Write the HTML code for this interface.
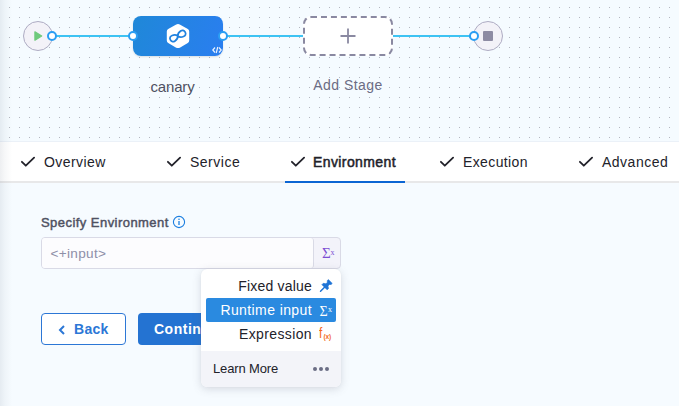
<!DOCTYPE html>
<html><head><meta charset="utf-8">
<style>
*{box-sizing:border-box;margin:0;padding:0}
html,body{width:679px;height:406px;overflow:hidden}
body{position:relative;background:#f6fbff;font-family:"Liberation Sans",sans-serif;}
.abs{position:absolute}
#canvas{left:0;top:0;width:679px;height:142px;border-bottom:1px solid #ebf1f8;background-color:#f5fbff;
}
#leftshade{left:0;top:0;width:12px;height:406px;background:linear-gradient(to right,rgba(20,40,70,0.075),rgba(20,40,70,0.035) 40%,rgba(20,40,70,0));z-index:50}
.line{height:2px;background:#3ec3f3;top:35px}
.port{width:10px;height:10px;border-radius:50%;background:#fff;border:2px solid #2b9ef3;top:31px}
.circ{width:30px;height:30px;border-radius:50%;background:#f3f2f8;border:1.2px solid #aeacc3;top:21px}
#stage{left:133px;top:16px;width:90px;height:40px;border-radius:8px;background:linear-gradient(110deg,#1f88d8,#2a7ef0);box-shadow:0 1px 2px rgba(0,0,0,0.12)}
#add{left:303px;top:16px;width:90px;height:40px}
.lbl{font-size:14px;color:#4f5162;text-align:center;white-space:nowrap}
#tabs{left:0;top:142px;width:679px;height:41px;background:#fff;border-bottom:2px solid #e8e8e9}
.tab{top:154px;font-size:14px;color:#22222a;white-space:nowrap;letter-spacing:0.25px}
.chk{top:156px}
</style></head><body>
<div id="canvas" class="abs"><svg width="679" height="141" style="position:absolute;left:0;top:0"><defs><pattern id="dots" x="9" y="7" width="10" height="10" patternUnits="userSpaceOnUse"><rect x="0" y="0" width="1" height="1" fill="#b5b7c0"/></pattern></defs><rect width="679" height="141" fill="url(#dots)"/></svg></div>

<!-- pipeline -->
<div class="abs line" style="left:52px;width:81px"></div>
<div class="abs line" style="left:223px;width:80px"></div>
<div class="abs line" style="left:393px;width:81px"></div>

<div class="abs circ" style="left:23px"></div>
<svg class="abs" style="left:33px;top:30px" width="11" height="12" viewBox="0 0 11 12"><path d="M1.9 1.8 L8.7 6 L1.9 10.2 Z" fill="#6fca7c" stroke="#6fca7c" stroke-width="1.2" stroke-linejoin="round"/></svg>
<div class="abs port" style="left:47px"></div>

<div id="stage" class="abs"></div>
<svg class="abs" style="left:166px;top:23px" width="24" height="26" viewBox="0 0 24 26">
  <path d="M12 1 Q13 1 14.2 1.7 L21.8 6 Q23.2 6.9 23.2 8.6 L23.2 17.6 Q23.2 19.3 21.8 20.1 L14.2 24.5 Q12 25.6 9.8 24.5 L2.2 20.1 Q0.8 19.3 0.8 17.6 L0.8 8.6 Q0.8 6.9 2.2 6 L9.8 1.7 Q11 1 12 1Z" fill="#fff"/>
  <g transform="translate(11.8 13) rotate(-28)"><path d="M0,0 C1.6,-3.4 8.4,-4.8 8.4,0 C8.4,4.8 1.6,3.4 0,0 C-1.6,-3.4 -8.4,-4.8 -8.4,0 C-8.4,4.8 -1.6,3.4 0,0Z" fill="none" stroke="#2082df" stroke-width="1.75"/></g>
</svg>
<svg class="abs" style="left:212px;top:46px" width="10" height="8" viewBox="0 0 10 8"><path d="M3 1.5 L0.8 4 L3 6.5 M7 1.5 L9.2 4 L7 6.5 M5.8 1 L4.2 7" fill="none" stroke="#e8f1ff" stroke-width="1.2"/></svg>
<div class="abs port" style="left:128px"></div>
<div class="abs port" style="left:218px"></div>

<div class="abs" style="left:303px;top:16px;width:90px;height:40px;border:2px dashed #8a89a1;border-radius:8px;background:#fff"></div>
<svg class="abs" style="left:303px;top:16px" width="90" height="40" viewBox="0 0 90 40"><path d="M37.5 20 H52.5 M45 12.5 V27.5" stroke="#8a89a1" stroke-width="1.8"/></svg>

<div class="abs circ" style="left:473px"></div>
<div class="abs" style="left:483px;top:31px;width:10px;height:10px;background:#8d8ba3;border-radius:1px"></div>
<div class="abs port" style="left:469px"></div>

<div class="abs lbl" style="left:122.5px;width:100px;top:78px;font-size:15px;letter-spacing:-0.15px">canary</div>
<div class="abs lbl" style="left:298px;width:100px;top:77px;color:#6b6c84;letter-spacing:0.45px">Add Stage</div>

<!-- tabs -->
<div id="tabs" class="abs"></div>
<div class="abs" style="left:285px;top:181px;width:120px;height:2px;background:#0b65d3"></div>

<svg class="abs chk" style="left:20px" width="16" height="12" viewBox="0 0 16 12"><path d="M1.9 5.8 L5.8 9.7 L14.1 1.7" fill="none" stroke="#22222a" stroke-width="1.8" stroke-linecap="round" stroke-linejoin="round"/></svg>
<div class="abs tab" style="left:44px;letter-spacing:0.42px">Overview</div>
<svg class="abs chk" style="left:166px" width="16" height="12" viewBox="0 0 16 12"><path d="M1.9 5.8 L5.8 9.7 L14.1 1.7" fill="none" stroke="#22222a" stroke-width="1.8" stroke-linecap="round" stroke-linejoin="round"/></svg>
<div class="abs tab" style="left:190px;letter-spacing:0.5px">Service</div>
<svg class="abs chk" style="left:289.5px" width="16" height="12" viewBox="0 0 16 12"><path d="M1.9 5.8 L5.8 9.7 L14.1 1.7" fill="none" stroke="#22222a" stroke-width="1.8" stroke-linecap="round" stroke-linejoin="round"/></svg>
<div class="abs tab" style="left:313px;letter-spacing:0.4px;-webkit-text-stroke:0.5px #22222a">Environment</div>
<svg class="abs chk" style="left:439px" width="16" height="12" viewBox="0 0 16 12"><path d="M1.9 5.8 L5.8 9.7 L14.1 1.7" fill="none" stroke="#22222a" stroke-width="1.8" stroke-linecap="round" stroke-linejoin="round"/></svg>
<div class="abs tab" style="left:463px;letter-spacing:0.38px">Execution</div>
<svg class="abs chk" style="left:578px" width="16" height="12" viewBox="0 0 16 12"><path d="M1.9 5.8 L5.8 9.7 L14.1 1.7" fill="none" stroke="#22222a" stroke-width="1.8" stroke-linecap="round" stroke-linejoin="round"/></svg>
<div class="abs tab" style="left:602px;letter-spacing:0.5px">Advanced</div>


<!-- form -->
<div class="abs" style="left:41px;top:215px;font-size:13px;color:#4f5162;white-space:nowrap;letter-spacing:0.45px;-webkit-text-stroke:0.45px #4f5162">Specify Environment</div>
<svg class="abs" style="left:172px;top:215px" width="14" height="14" viewBox="0 0 14 14"><circle cx="7" cy="7" r="5.6" fill="none" stroke="#1b7ee0" stroke-width="1.1"/><path d="M7 6 V10" stroke="#1b7ee0" stroke-width="1.3"/><circle cx="7" cy="4.3" r="0.8" fill="#1b7ee0"/></svg>
<div class="abs" style="left:41px;top:237px;width:300px;height:32px;border:1px solid #d9dae6;border-radius:4px;background:#f3f3fa"></div>
<div class="abs" style="left:42px;top:238px;width:272px;height:30px;border-right:1px solid #d9dae6;border-radius:3px;background:#fcfcfe"></div>
<div class="abs" style="left:50.5px;top:246px;font-size:13.6px;color:#8e8fa8;white-space:nowrap;letter-spacing:0.3px">&lt;+input&gt;</div>
<div class="abs" style="left:322px;top:245px;font-family:'Liberation Serif',serif;font-size:15px;line-height:17px;color:#7d4dd3">&Sigma;</div><div class="abs" style="left:330.5px;top:249px;font-family:'Liberation Serif',serif;font-size:8px;line-height:8px;color:#7d4dd3">x</div>

<!-- buttons -->
<div class="abs" style="left:41px;top:313px;width:85px;height:32px;border:1px solid #2c77d6;border-radius:4px;background:#fff"></div>
<svg class="abs" style="left:58px;top:325px" width="8" height="10" viewBox="0 0 8 10"><path d="M6 1 L2 5 L6 9" fill="none" stroke="#2c77d6" stroke-width="2"/></svg>
<div class="abs" style="left:74px;top:321px;font-size:14px;font-weight:bold;color:#2c77d6;white-space:nowrap;letter-spacing:0.3px">Back</div>
<div class="abs" style="left:138px;top:313px;width:100px;height:32px;border-radius:4px;background:#2473d2"></div>
<div class="abs" style="left:154px;top:321px;font-size:14px;font-weight:bold;color:#fff;white-space:nowrap;letter-spacing:0.5px">Continue</div>

<!-- popup -->
<div class="abs" style="left:201px;top:269px;width:140px;height:118px;border-radius:6px;background:#fff;box-shadow:0 0 1px rgba(40,41,61,0.08),0 2px 8px rgba(96,97,112,0.22);overflow:hidden">
  <div class="abs" style="left:5px;top:29px;width:130px;height:24px;background:#2a8ae0;border-radius:2px"></div>
  <div class="abs" style="left:0;top:82px;width:140px;height:36px;background:#f3f4f9"></div>
  <svg class="abs" style="left:113px;top:5px" width="26" height="30" viewBox="0 0 26 30"><g transform="translate(6.1 17.7) rotate(-45)"><path d="M0.6,0 L7,0" stroke="#1f74d6" stroke-width="1.5" stroke-linecap="round"/><path d="M6.3,-3.7 L8.2,-3.7 L9.6,-1.5 L11.8,-1.5 L12.8,-2.7 L14.4,-2.7 L14.4,2.7 L12.8,2.7 L11.8,1.5 L9.6,1.5 L8.2,3.7 L6.3,3.7 Z" fill="#1f74d6" stroke="#1f74d6" stroke-width="0.6" stroke-linejoin="round"/></g></svg>
  <div class="abs" style="left:118.5px;top:34.5px;font-family:'Liberation Serif',serif;font-size:14px;line-height:16px;color:#fff">&Sigma;</div><div class="abs" style="left:127px;top:37px;font-family:'Liberation Serif',serif;font-size:8px;line-height:7px;color:#fff">x</div>
  <div class="abs" style="left:118px;top:57px;font-size:14px;line-height:14px;color:#f5681c;transform:scaleX(0.85);transform-origin:left">f</div><div class="abs" style="left:122.5px;top:63.5px;font-size:6.5px;line-height:7px;color:#f26b1d;font-weight:bold;letter-spacing:-0.2px">(x)</div>
  <div class="abs" style="right:29px;top:9px;font-size:14px;color:#22222a;white-space:nowrap;letter-spacing:0.2px">Fixed value</div>
  <div class="abs" style="right:29px;top:33px;font-size:14px;color:#fff;white-space:nowrap;letter-spacing:0.4px">Runtime input</div>
  <div class="abs" style="right:29px;top:57px;font-size:14px;color:#22222a;white-space:nowrap;letter-spacing:0.38px">Expression</div>
  <div class="abs" style="left:12px;top:92px;font-size:13px;color:#22222a;white-space:nowrap;letter-spacing:-0.15px">Learn More</div>
  <div class="abs" style="left:112px;top:98px;width:4px;height:4px;border-radius:50%;background:#6b6d85"></div>
  <div class="abs" style="left:118px;top:98px;width:4px;height:4px;border-radius:50%;background:#6b6d85"></div>
  <div class="abs" style="left:124px;top:98px;width:4px;height:4px;border-radius:50%;background:#6b6d85"></div>
</div>
<div id="leftshade" class="abs"></div>
</body></html>
